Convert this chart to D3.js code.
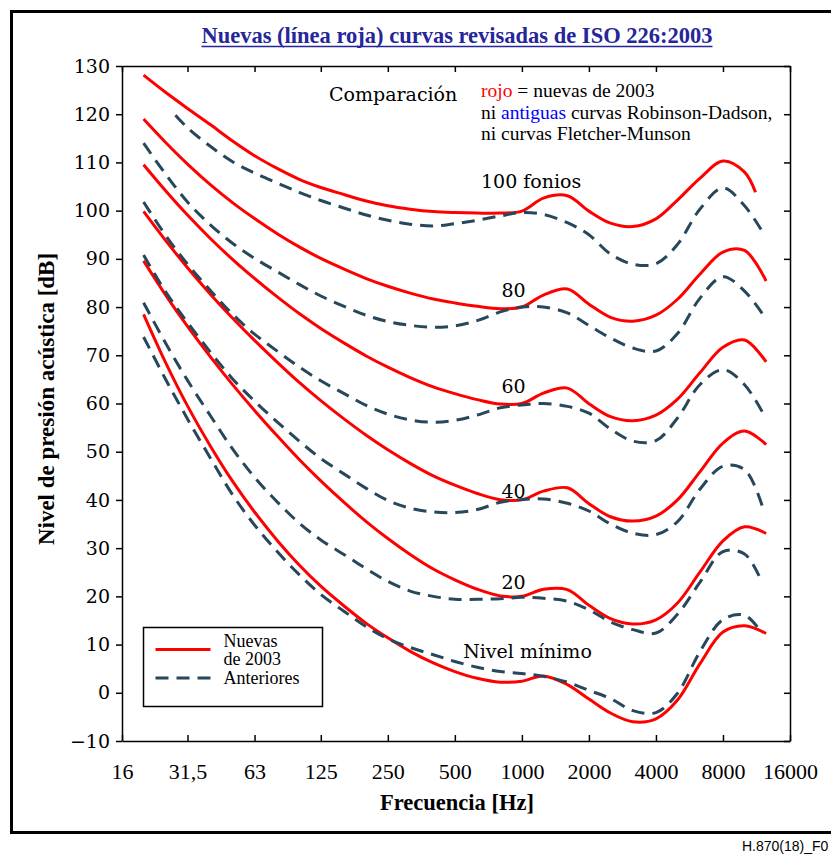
<!DOCTYPE html>
<html>
<head>
<meta charset="utf-8">
<script src="https://cdn.jsdelivr.net/npm/d3@7"></script>
<style>
    body { margin: 0; background: #fff; }
    svg { display: block; }
</style>
</head>
<body>
<svg id="chart" width="831" height="855"></svg>
<script>
// init data
// ISO 226:2003 (red curves), third-octave frequencies
const freqNew = [20, 25, 31.5, 40, 50, 63, 80, 100, 125, 160, 200, 250, 315, 400, 500, 630, 800, 1000, 1250, 1600, 2000, 2500, 3150, 4000, 5000, 6300, 8000, 10000, 12500];
const newMin = [78.5, 68.7, 59.5, 51.1, 44.0, 37.5, 31.5, 26.5, 22.1, 17.9, 14.4, 11.4, 8.6, 6.2, 4.4, 3.0, 2.2, 2.4, 3.5, 1.7, -1.3, -4.2, -6.0, -5.4, -1.5, 6.0, 12.6, 13.9, 12.3];
const new20 = [89.58, 82.65, 75.98, 69.62, 64.02, 58.55, 53.19, 48.38, 43.94, 39.37, 35.51, 31.99, 28.69, 25.67, 23.43, 21.48, 20.10, 20.01, 21.46, 21.40, 18.15, 15.38, 14.26, 15.14, 18.63, 25.02, 31.52, 34.43, 33.04];
const new40 = [99.85, 93.94, 88.17, 82.63, 77.78, 73.08, 68.48, 64.37, 60.59, 56.70, 53.41, 50.40, 47.58, 44.98, 43.05, 41.34, 40.06, 40.01, 41.82, 42.51, 39.23, 36.51, 35.61, 36.65, 40.01, 45.83, 51.80, 54.28, 51.49];
const new60 = [109.51, 104.23, 99.08, 94.18, 89.96, 85.94, 82.05, 78.65, 75.56, 72.47, 69.86, 67.53, 65.39, 63.45, 62.05, 60.81, 59.89, 60.01, 62.15, 63.19, 59.96, 57.26, 56.42, 57.57, 60.89, 66.36, 71.66, 73.16, 68.63];
const new80 = [118.99, 114.23, 109.65, 105.34, 101.72, 98.36, 95.17, 92.48, 90.09, 87.82, 85.92, 84.31, 82.89, 81.68, 80.86, 80.17, 79.67, 80.01, 82.48, 83.74, 80.59, 77.88, 77.07, 78.31, 81.62, 86.81, 91.41, 91.74, 85.41];
const freqNew100 = [20, 25, 31.5, 40, 50, 63, 80, 100, 125, 160, 200, 250, 315, 400, 500, 630, 800, 1000, 1250, 1600, 2000, 2500, 3150, 4000, 5000, 6300, 8000, 10000, 11200];
const new100 = [128.1, 124.6, 121.2, 117.8, 114.5, 111.4, 108.7, 106.5, 104.8, 103.3, 102.0, 101.0, 100.3, 99.8, 99.6, 99.5, 99.5, 99.9, 102.6, 103.1, 99.9, 97.4, 96.7, 98.3, 102.2, 106.7, 110.3, 108.0, 103.8];

// Robinson-Dadson (dashed curves)
const freqOld = [20, 25, 31.5, 40, 50, 63, 80, 100, 125, 160, 200, 250, 315, 400, 500, 630, 800, 1000, 1250, 1600, 2000, 2500, 3150, 4000, 5000, 6300, 8000, 10000, 12000];
const oldMin = [73.8, 65.2, 56.8, 48.6, 41.2, 34.8, 29.2, 24.5, 20.4, 16.8, 13.7, 11.2, 9.4, 7.9, 6.5, 5.3, 4.4, 4.0, 3.4, 2.2, 0.5, -1.2, -3.7, -4.1, -0.1, 8.5, 15.2, 16.1, 12.3];
const old20 = [80.9, 72.7, 64.8, 57.4, 50.7, 44.7, 39.5, 35.2, 31.7, 28.6, 25.7, 23.1, 21.1, 20.0, 19.4, 19.4, 19.5, 19.8, 19.6, 19.0, 17.2, 14.7, 13.1, 12.4, 16.3, 22.9, 29.3, 28.8, 22.8];
const old40 = [90.8, 83.3, 76.8, 70.6, 65.2, 60.5, 56.1, 52.2, 48.6, 45.3, 42.4, 39.9, 38.3, 37.5, 37.4, 38.0, 39.5, 40.1, 40.2, 39.3, 37.7, 35.0, 33.1, 32.8, 35.5, 42.2, 47.0, 46.3, 38.8];
const old60 = [101.8, 95.0, 88.9, 83.4, 78.6, 74.4, 70.8, 67.6, 64.7, 62.0, 59.6, 57.8, 56.6, 56.1, 56.5, 57.6, 59.1, 59.7, 60.0, 59.4, 58.0, 54.7, 52.2, 52.3, 57.0, 63.9, 67.0, 63.9, 58.3];
const old80 = [114.0, 107.7, 101.8, 97.0, 93.3, 90.1, 87.3, 84.7, 82.3, 80.1, 78.3, 77.0, 76.2, 75.8, 76.1, 77.2, 79.0, 80.0, 80.0, 78.8, 76.2, 73.6, 71.5, 70.9, 74.5, 81.8, 86.3, 83.3, 78.7];
const freqOld100 = [27.8, 31.5, 40, 50, 63, 80, 100, 125, 160, 200, 250, 315, 400, 500, 630, 800, 1000, 1250, 1600, 2000, 2500, 3150, 4000, 5000, 6300, 8000, 10000, 12000];
const old100 = [119.8, 117.2, 113.3, 110.2, 107.8, 105.7, 103.8, 102.1, 100.5, 99.1, 98.0, 97.2, 96.8, 97.3, 98.0, 98.9, 99.6, 99.2, 97.5, 95.0, 91.0, 88.9, 89.0, 93.0, 100.3, 104.7, 101.0, 95.7];

// axes
const xTicks = [16, 31.5, 63, 125, 250, 500, 1000, 2000, 4000, 8000, 16000];
const xTickLabels = ['16', '31,5', '63', '125', '250', '500', '1000', '2000', '4000', '8000', '16000'];
const yTicks = [-10, 0, 10, 20, 30, 40, 50, 60, 70, 80, 90, 100, 110, 120, 130];

// curve labels: [text, freq, dB]
const curveLabels = [
    ['100 fonios', 655, 104.7],
    ['80', 810, 82.1],
    ['60', 810, 62.1],
    ['40', 810, 40.3],
    ['20', 810, 21.6],
    ['Nivel mínimo', 545, 7.2]
];
const legendLabels = ['Nuevas', 'de 2003', 'Anteriores'];

const red = '#ff0000';
const slate = '#27475a';
const serif = '"Liberation Serif", "Times New Roman", serif';
const wideSerif = '"DejaVu Serif", serif';

// init d3
const svg = d3.select('#chart');
const x = d3.scaleLog().domain([16, 16000]).range([122, 790]);
const y = d3.scaleLinear().domain([-10, 130]).range([741, 66]);

// outer frame
svg.append('rect')
    .attr('x', 11.5).attr('y', 11.5)
    .attr('width', 880).attr('height', 821)
    .attr('fill', 'none').attr('stroke', '#000').attr('stroke-width', 3);

// title
const title = svg.append('text')
    .attr('x', 457).attr('y', 43)
    .attr('text-anchor', 'middle')
    .attr('font-family', serif).attr('font-weight', 'bold').attr('font-size', 22.5)
    .attr('fill', '#26269a')
    .text('Nuevas (línea roja) curvas revisadas de ISO 226:2003');
const tb = title.node().getBBox();
svg.append('line')
    .attr('x1', tb.x).attr('x2', tb.x + tb.width)
    .attr('y1', 46.5).attr('y2', 46.5)
    .attr('stroke', '#26269a').attr('stroke-width', 1.5);

// axes
function styleAxis(g) {
    g.selectAll('path, line').attr('stroke', '#000').attr('stroke-width', 1.5);
}
svg.append('g')
    .attr('transform', 'translate(122,0)')
    .call(d3.axisLeft(y).tickValues(yTicks).tickSizeInner(6).tickSizeOuter(0).tickPadding(6)
        .tickFormat(d => d < 0 ? '\u2212' + Math.abs(d) : d))
    .call(styleAxis)
    .call(g => g.selectAll('text').attr('font-family', wideSerif).attr('font-size', 19).attr('fill', '#000'));
svg.append('g')
    .attr('transform', 'translate(790,0)')
    .call(d3.axisRight(y).tickValues(yTicks).tickSizeInner(-6).tickSizeOuter(0).tickFormat(''))
    .call(styleAxis);
svg.append('g')
    .attr('transform', 'translate(0,741)')
    .call(d3.axisBottom(x).tickValues(xTicks).tickSizeInner(-6).tickSizeOuter(0).tickPadding(22)
        .tickFormat((d, i) => xTickLabels[i]))
    .call(styleAxis)
    .call(g => g.selectAll('text').attr('font-family', serif).attr('font-size', 22).attr('fill', '#000'));
svg.append('g')
    .attr('transform', 'translate(0,66)')
    .call(d3.axisTop(x).tickValues(xTicks).tickSizeInner(-6).tickSizeOuter(0).tickFormat(''))
    .call(styleAxis);

// axis titles
svg.append('text')
    .attr('transform', 'translate(54,399) rotate(-90)')
    .attr('text-anchor', 'middle')
    .attr('font-family', serif).attr('font-weight', 'bold').attr('font-size', 23)
    .text('Nivel de presión acústica [dB]');
svg.append('text')
    .attr('x', 457).attr('y', 810)
    .attr('text-anchor', 'middle')
    .attr('font-family', serif).attr('font-weight', 'bold').attr('font-size', 22.5)
    .text('Frecuencia [Hz]');

// curves
const line = d3.line()
    .x(d => x(d[0]))
    .y(d => y(d[1]))
    .curve(d3.curveCatmullRom.alpha(0.5));

const newCurves = [
    d3.zip(freqNew, newMin), d3.zip(freqNew, new20), d3.zip(freqNew, new40),
    d3.zip(freqNew, new60), d3.zip(freqNew, new80), d3.zip(freqNew100, new100)
];
const oldCurves = [
    d3.zip(freqOld, oldMin), d3.zip(freqOld, old20), d3.zip(freqOld, old40),
    d3.zip(freqOld, old60), d3.zip(freqOld, old80), d3.zip(freqOld100, old100)
];

svg.append('g').selectAll('path')
    .data(newCurves)
    .join('path')
    .attr('d', line)
    .attr('fill', 'none').attr('stroke', red).attr('stroke-width', 3);

svg.append('g').selectAll('path')
    .data(oldCurves)
    .join('path')
    .attr('d', line)
    .attr('fill', 'none').attr('stroke', slate).attr('stroke-width', 3)
    .attr('stroke-dasharray', '13,8');

// curve labels
svg.append('g').selectAll('text')
    .data(curveLabels)
    .join('text')
    .attr('x', d => x(d[1])).attr('y', d => y(d[2]))
    .attr('font-family', wideSerif).attr('font-size', 19)
    .text(d => d[0]);

// notes
svg.append('text')
    .attr('x', 329).attr('y', 101)
    .attr('font-family', wideSerif).attr('font-size', 19)
    .text('Comparación');
const notes = svg.append('text')
    .attr('font-family', serif).attr('font-size', 19.5).attr('fill', '#000');
const l1 = notes.append('tspan').attr('x', 481).attr('y', 97);
l1.append('tspan').attr('fill', red).text('rojo');
l1.append('tspan').text(' = nuevas de 2003');
const l2 = notes.append('tspan').attr('x', 481).attr('y', 118.5);
l2.append('tspan').text('ni ');
l2.append('tspan').attr('fill', '#0000ff').text('antiguas');
l2.append('tspan').text(' curvas Robinson-Dadson,');
notes.append('tspan').attr('x', 481).attr('y', 140).text('ni curvas Fletcher-Munson');

// legend
const legend = svg.append('g').attr('transform', 'translate(143.5,627.5)');
legend.append('rect')
    .attr('width', 179).attr('height', 79)
    .attr('fill', '#fff').attr('stroke', '#000').attr('stroke-width', 1.5);
legend.append('line')
    .attr('x1', 12).attr('x2', 67).attr('y1', 22).attr('y2', 22)
    .attr('stroke', red).attr('stroke-width', 3);
legend.append('line')
    .attr('x1', 12).attr('x2', 67).attr('y1', 50.5).attr('y2', 50.5)
    .attr('stroke', slate).attr('stroke-width', 3).attr('stroke-dasharray', '13,8');
legend.selectAll('text.lg')
    .data(legendLabels)
    .join('text')
    .attr('class', 'lg')
    .attr('x', 80).attr('y', (d, i) => 19.5 + i * 18.3)
    .attr('font-family', serif).attr('font-size', 18)
    .text(d => d);

// figure id (cut at the right edge in the original)
svg.append('text')
    .attr('x', 742).attr('y', 851)
    .attr('font-family', '"Liberation Sans", Arial, sans-serif').attr('font-size', 14)
    .text('H.870(18)_F0');
</script>
</body>
</html>
